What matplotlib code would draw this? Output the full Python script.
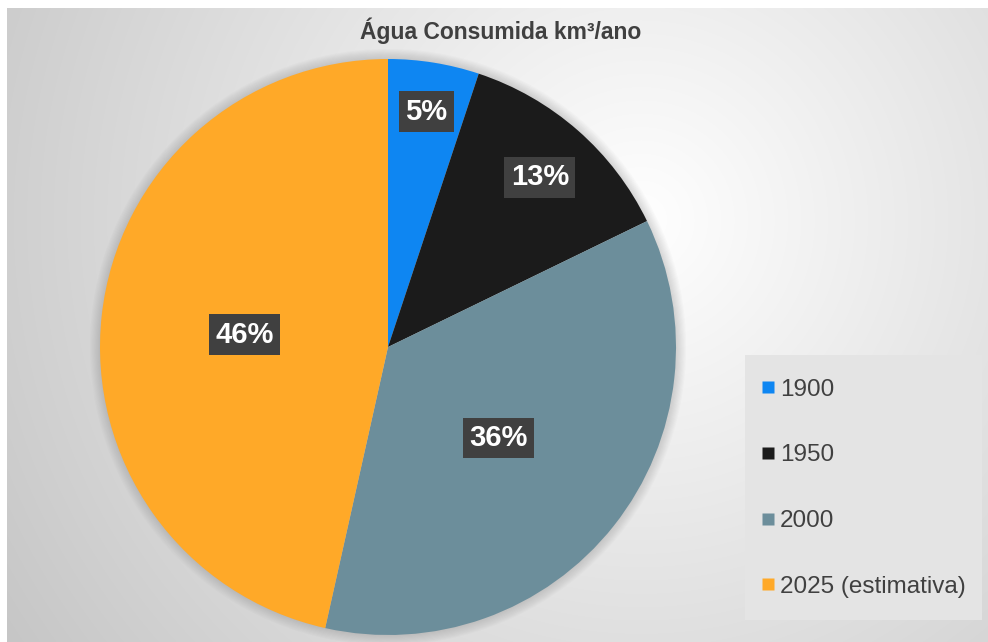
import numpy as np
import matplotlib
matplotlib.use("Agg")
import matplotlib.pyplot as plt
from matplotlib.lines import Line2D
from matplotlib.patches import Circle, Rectangle

plt.rcParams['font.family'] = ['Liberation Sans', 'DejaVu Sans']

# ---- data ----
title = "Água Consumida km³/ano"
categories = ["1900", "1950", "2000", "2025 (estimativa)"]
shares = [5.1, 12.7, 35.7, 46.5]          # % of total consumption
colors = ["#0E86F2", "#1B1B1B", "#6C8E9B", "#FFA928"]
label_dist = [0.84, 0.80, 0.49, 0.50]      # label position (fraction of radius)

W, H = 988, 642
fig = plt.figure(figsize=(W / 100, H / 100), dpi=100, facecolor="white")

# ---- radial gradient background ----
bg = fig.add_axes([7 / W, 0, 1 - 7 / W, 1 - 8 / H], zorder=-10)
yy, xx = np.mgrid[0:H - 8, 0:W - 7]
xx = xx + 7
yy = yy + 8
dist = np.sqrt((xx - 640) ** 2 + ((yy - 220) * 1.0) ** 2)
val = np.clip(255 - 0.075 * dist, 190, 253) / 255.0
img = np.dstack([val, val, val])
bg.imshow(img, aspect="auto", interpolation="bilinear")
bg.set_axis_off()

# ---- pie ----
cx, cy, R = 388, 347, 288
ax = fig.add_axes([(cx - R) / W, (H - cy - R) / H, 2 * R / W, 2 * R / H])
ax.set_axis_off()

# soft shadow around the pie
for r in np.linspace(1.0, 1.035, 10):
    ax.add_patch(Circle((0, 0), r, facecolor="#555555", edgecolor="none",
                        alpha=0.025, zorder=0, clip_on=False))

wedges, texts, autotexts = ax.pie(
    shares, colors=colors, startangle=90, counterclock=False, radius=1,
    autopct="%.0f%%", wedgeprops=dict(linewidth=0), normalize=True)
for w in wedges:
    w.set_zorder(1)
ax.set_xlim(-1, 1)
ax.set_ylim(-1, 1)

for w, t, d in zip(wedges, autotexts, label_dist):
    th = np.deg2rad((w.theta1 + w.theta2) / 2)
    t.set_position((d * np.cos(th), d * np.sin(th) - 0.012))
    t.set_color("white")
    t.set_fontsize(21)
    t.set_fontweight("bold")
    t.set_zorder(5)
    t.set_bbox(dict(boxstyle="square,pad=0.22", facecolor="#404040",
                    edgecolor="none"))

# ---- title ----
fig.text(501 / W, 1 - 31 / H, title, ha="center", va="center",
         fontsize=16.5, fontweight="bold", color="#404040")

# ---- legend ----
fig.patches.append(Rectangle((745 / W, 1 - 620 / H), (982 - 745) / W,
                             (620 - 355) / H, transform=fig.transFigure,
                             facecolor="#E4E4E4", edgecolor="none", zorder=1))
handles = [Line2D([], [], linestyle="none", marker="s", markersize=8.5,
                  markerfacecolor=c, markeredgecolor="none") for c in colors]
leg = fig.legend(handles, categories, loc="upper left",
                 bbox_to_anchor=(761 / W, 1 - 378.5 / H), frameon=False,
                 fontsize=17.5, labelspacing=1.80, borderpad=0,
                 handlelength=0.57, handletextpad=0.2, borderaxespad=0)
leg.set_zorder(2)
for txt in leg.get_texts():
    txt.set_color("#404040")

fig.savefig("out.png", dpi=100, facecolor="white")
